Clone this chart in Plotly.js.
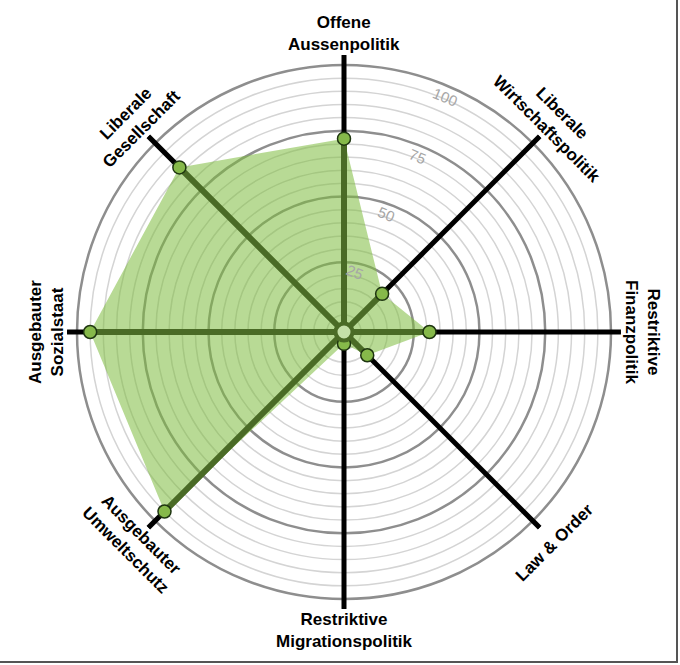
<!DOCTYPE html>
<html>
<head>
<meta charset="utf-8">
<script src="https://cdn.plot.ly/plotly-3.0.1.min.js"></script>
<style>
  html, body { margin: 0; padding: 0; background: #fff; }
  #wrap { position: relative; width: 680px; height: 665px; }
  #chart { width: 680px; height: 665px; }
  #frame { position: absolute; left: 0; top: 0; width: 676px; height: 661px;
           border-right: 2px solid #555; border-bottom: 2px solid #555; pointer-events: none; }
</style>
</head>
<body>
<div id="wrap"><div id="chart"></div><div id="frame"></div></div>
<script>
// ---- data ----
const categories = ['Offene Aussenpolitik', 'Liberale Wirtschaftspolitik', 'Restriktive Finanzpolitik',
  'Law & Order', 'Restriktive Migrationspolitik', 'Ausgebauter Umweltschutz',
  'Ausgebauter Sozialstaat', 'Liberale Gesellschaft'];
const categoryLabels = ['Offene<br>Aussenpolitik', 'Liberale<br>Wirtschaftspolitik', 'Restriktive<br>Finanzpolitik',
  'Law &amp; Order', 'Restriktive<br>Migrationspolitik', 'Ausgebauter<br>Umweltschutz',
  'Ausgebauter<br>Sozialstaat', 'Liberale<br>Gesellschaft'];
const values = [72, 19, 31, 11, 3, 95, 95, 87];
const majorRings = [25, 50, 75, 100];
const majorRingLabels = ['25', '50', '75', '100'];
const minorRings = [5, 10, 15, 20, 30, 35, 40, 45, 55, 60, 65, 70, 80, 85, 90, 95];

// ---- styling / geometry ----
const W = 680, H = 665;
const CX = 344, CY = 332, RPX = 277;          // polar centre and radius in px
const RMIN = -1.5, RMAX = 103.8;              // radial range
const domX = [(CX - RPX) / W, (CX + RPX) / W];
const domY = [(H - (CY + RPX)) / H, (H - (CY - RPX)) / H];
const LABEL_R = 298;
const darkGreen = '#4a6b26';
const RING_LABEL_ANGLE = 61.5;

function hiddenAngular() {
  return { type: 'category', categoryarray: categories, rotation: 90, direction: 'clockwise',
           showgrid: false, showline: false, showticklabels: false, ticks: '' };
}

const traces = [];
// dummy trace so the light-grid polar is drawn
traces.push({ type: 'scatterpolar', subplot: 'polar', mode: 'markers', r: [], theta: [], showlegend: false });
// black spokes
const sr = [], st = [];
categories.forEach(c => { sr.push(RMIN, RMAX, null); st.push(c, c, null); });
traces.push({ type: 'scatterpolar', subplot: 'polar2', mode: 'lines', r: sr, theta: st,
  line: { color: '#000', width: 5 }, hoverinfo: 'skip', showlegend: false, connectgaps: false });
// filled area
traces.push({ type: 'scatterpolar', subplot: 'polar2', mode: 'lines', r: values.concat([values[0]]),
  theta: categories.concat([categories[0]]), fill: 'toself', fillcolor: 'rgba(125,188,62,0.55)',
  line: { width: 0, color: 'rgba(0,0,0,0)' }, hoverinfo: 'skip', showlegend: false });
// green spokes
const gr = [], gt = [];
categories.forEach((c, i) => { gr.push(RMIN, values[i], null); gt.push(c, c, null); });
traces.push({ type: 'scatterpolar', subplot: 'polar2', mode: 'lines', r: gr, theta: gt,
  line: { color: darkGreen, width: 6 }, hoverinfo: 'skip', showlegend: false, connectgaps: false });
// markers
traces.push({ type: 'scatterpolar', subplot: 'polar2', mode: 'markers', r: values, theta: categories,
  marker: { size: 13, color: '#86b94a', line: { color: '#1e3510', width: 1.5 } }, showlegend: false });
// centre circle
traces.push({ type: 'scatterpolar', subplot: 'polar2', mode: 'markers', r: [RMIN], theta: [categories[0]],
  marker: { size: 17, color: '#c4e0a8', line: { color: darkGreen, width: 4 } }, hoverinfo: 'skip', showlegend: false });
// dummy trace so polar3 (ring labels) exists
traces.push({ type: 'scatterpolar', subplot: 'polar3', mode: 'markers', r: [], theta: [], showlegend: false });

const annotations = categories.map((c, i) => {
  const a = i * 45;
  const rad = a * Math.PI / 180;
  let ta = a;
  if (a > 90 && a < 270) ta = a - 180;
  if (a >= 270) ta = a - 360;
  return {
    xref: 'paper', yref: 'paper',
    x: (CX + LABEL_R * Math.sin(rad)) / W,
    y: (H - (CY - LABEL_R * Math.cos(rad))) / H,
    xanchor: 'center', yanchor: 'middle', showarrow: false,
    text: categoryLabels[i], textangle: ta,
    font: { family: 'Liberation Sans, Arial, sans-serif', size: 17, color: '#000', weight: 700 }
  };
});

const layout = {
  width: W, height: H, margin: { l: 0, r: 0, t: 0, b: 0 },
  paper_bgcolor: '#fff', showlegend: false,
  polar: {
    domain: { x: domX, y: domY }, bgcolor: '#fff',
    angularaxis: hiddenAngular(),
    radialaxis: { range: [RMIN, RMAX], tickvals: minorRings, showticklabels: false, ticks: '',
                  showline: false, gridcolor: '#d4d4d4', gridwidth: 1.5 }
  },
  polar2: {
    domain: { x: domX, y: domY }, bgcolor: 'rgba(0,0,0,0)',
    angularaxis: hiddenAngular(),
    radialaxis: { range: [RMIN, RMAX], tickvals: majorRings, showticklabels: false, ticks: '',
                  showline: false, gridcolor: '#8e8e8e', gridwidth: 2.5 }
  },
  polar3: {
    domain: { x: domX, y: domY }, bgcolor: 'rgba(0,0,0,0)',
    angularaxis: hiddenAngular(),
    radialaxis: { range: [RMIN, RMAX], tickvals: majorRings.map(v => v - 3.4), ticktext: majorRingLabels,
                  showgrid: false, showline: false, ticks: '', angle: RING_LABEL_ANGLE, side: 'counterclockwise',
                  tickangle: RING_LABEL_ANGLE + 22.5,
                  tickfont: { family: 'Liberation Sans, Arial, sans-serif', size: 15, color: '#a6a6a6' } }
  },
  annotations: annotations
};

Plotly.newPlot('chart', traces, layout, { displayModeBar: false, staticPlot: true });
</script>
</body>
</html>
